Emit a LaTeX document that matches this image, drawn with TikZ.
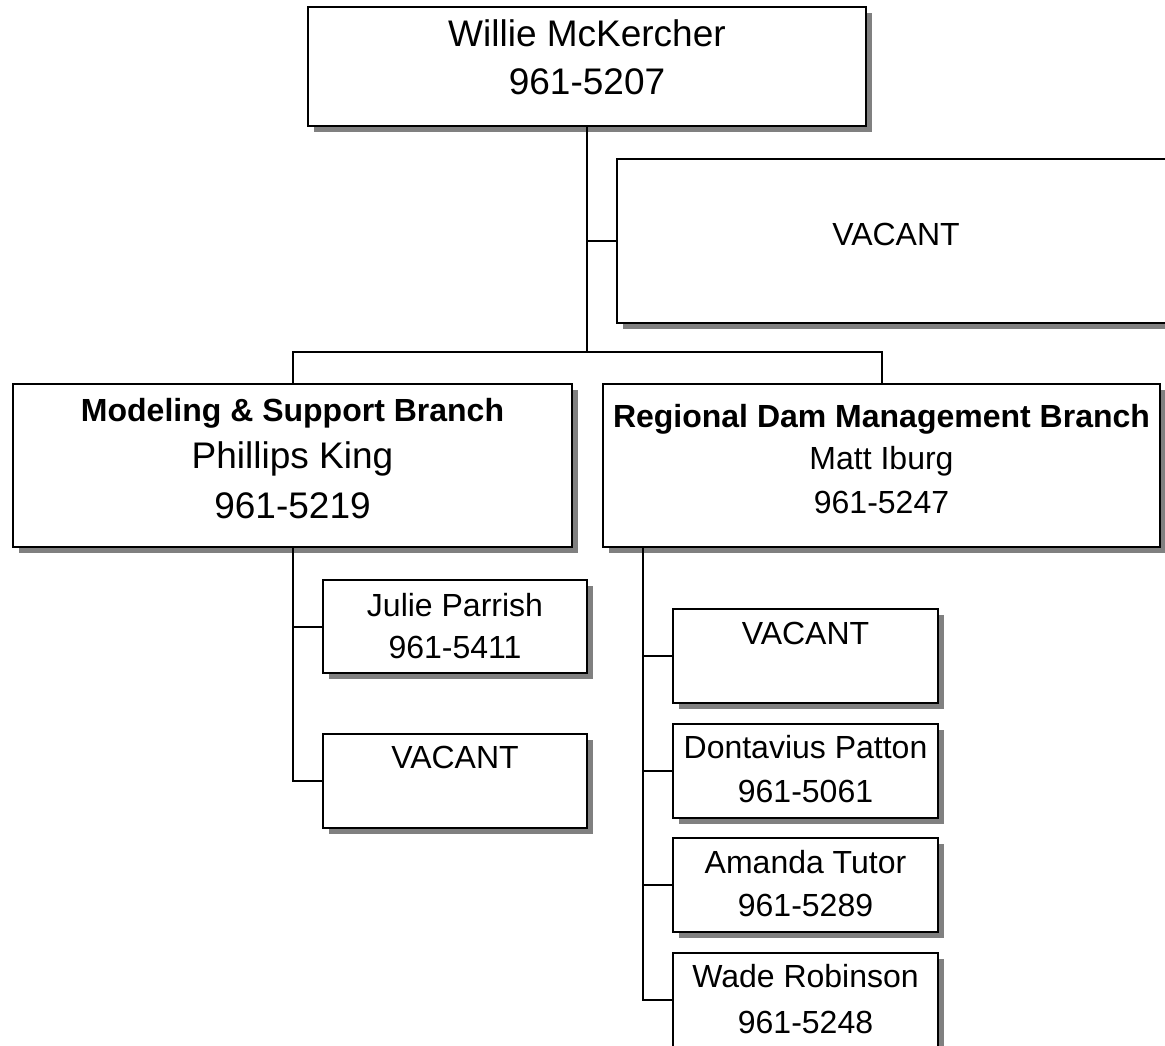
\documentclass[tikz,border=0pt]{standalone}
\usepackage{fontspec}
\setmainfont{Liberation Sans}
\usetikzlibrary{shadows}
\tikzset{
  orgbox/.style={draw=black, line width=2.4pt, fill=white, rectangle, inner sep=0pt,
    drop shadow={shadow xshift=6pt, shadow yshift=-6pt, fill=shadowgray, opacity=1}},
  conn/.style={draw=black, line width=2pt},
  big/.style={anchor=base, inner sep=0pt, font=\fontsize{37}{44}\selectfont},
  reg/.style={anchor=base, inner sep=0pt, font=\fontsize{32}{38}\selectfont},
  bld/.style={anchor=base, inner sep=0pt, font=\fontsize{32}{38}\selectfont\bfseries},
}
\definecolor{shadowgray}{HTML}{808080}
\begin{document}
\begin{tikzpicture}[x=1pt,y=-1pt]
\useasboundingbox (0,0) rectangle (1165,1046);
\clip (0,0) rectangle (1165,1046);
% boxes
\node[orgbox, minimum width=558pt, minimum height=119pt] (top) at (587,66.5) {};
\node[orgbox, minimum width=558pt, minimum height=164pt] (vac0) at (896,241) {};
\node[orgbox, minimum width=559pt, minimum height=163pt] (msb) at (292.5,465.5) {};
\node[orgbox, minimum width=557pt, minimum height=163pt] (rdm) at (881.5,465.5) {};
\node[orgbox, minimum width=264pt, minimum height=93pt] (julie) at (455,626.5) {};
\node[orgbox, minimum width=264pt, minimum height=94pt] (vac1) at (455,781) {};
\node[orgbox, minimum width=265pt, minimum height=94pt] (vac2) at (805.5,656) {};
\node[orgbox, minimum width=265pt, minimum height=94pt] (dont) at (805.5,771) {};
\node[orgbox, minimum width=265pt, minimum height=94pt] (aman) at (805.5,885) {};
\node[orgbox, minimum width=265pt, minimum height=94pt] (wade) at (805.5,1000) {};
% texts
\node[big] (topA) at (587,47) {Willie McKercher};
\node[big] (topB) at (587,95) {961-5207};
\node[reg] (vac0A) at (896,245) {VACANT};
\node[bld] (msbA) at (292.5,421) {Modeling \& Support Branch};
\node[big] (msbB) at (292.5,468) {Phillips King};
\node[big] (msbC) at (292.5,518) {961-5219};
\node[bld] (rdmA) at (881.5,427) {Regional Dam Management Branch};
\node[reg] (rdmB) at (881.5,469) {Matt Iburg};
\node[reg] (rdmC) at (881.5,513) {961-5247};
\node[reg] (julieA) at (455,616) {Julie Parrish};
\node[reg] (julieB) at (455,658) {961-5411};
\node[reg] (vac1A) at (455,768) {VACANT};
\node[reg] (vac2A) at (805.5,644) {VACANT};
\node[reg] (dontA) at (805.5,758) {Dontavius Patton};
\node[reg] (dontB) at (805.5,802) {961-5061};
\node[reg] (amanA) at (805.5,873) {Amanda Tutor};
\node[reg] (amanB) at (805.5,916) {961-5289};
\node[reg] (wadeA) at (805.5,987) {Wade Robinson};
\node[reg] (wadeB) at (805.5,1033) {961-5248};
% connectors
\coordinate (hub) at (587,352);
\coordinate (rt) at (643,547);
\draw[conn] (top.south) -- (hub);
\draw[conn] (top.south |- vac0.west) -- (vac0.west);
\draw[conn] (msb.north) |- (hub) -| (rdm.north);
\draw[conn] (msb.south) |- (vac1.west);
\draw[conn] (msb.south |- julie.west) -- (julie.west);
\draw[conn] (rt) |- (wade.west);
\draw[conn] (rt |- vac2.west) -- (vac2.west);
\draw[conn] (rt |- dont.west) -- (dont.west);
\draw[conn] (rt |- aman.west) -- (aman.west);
\end{tikzpicture}
\end{document}
